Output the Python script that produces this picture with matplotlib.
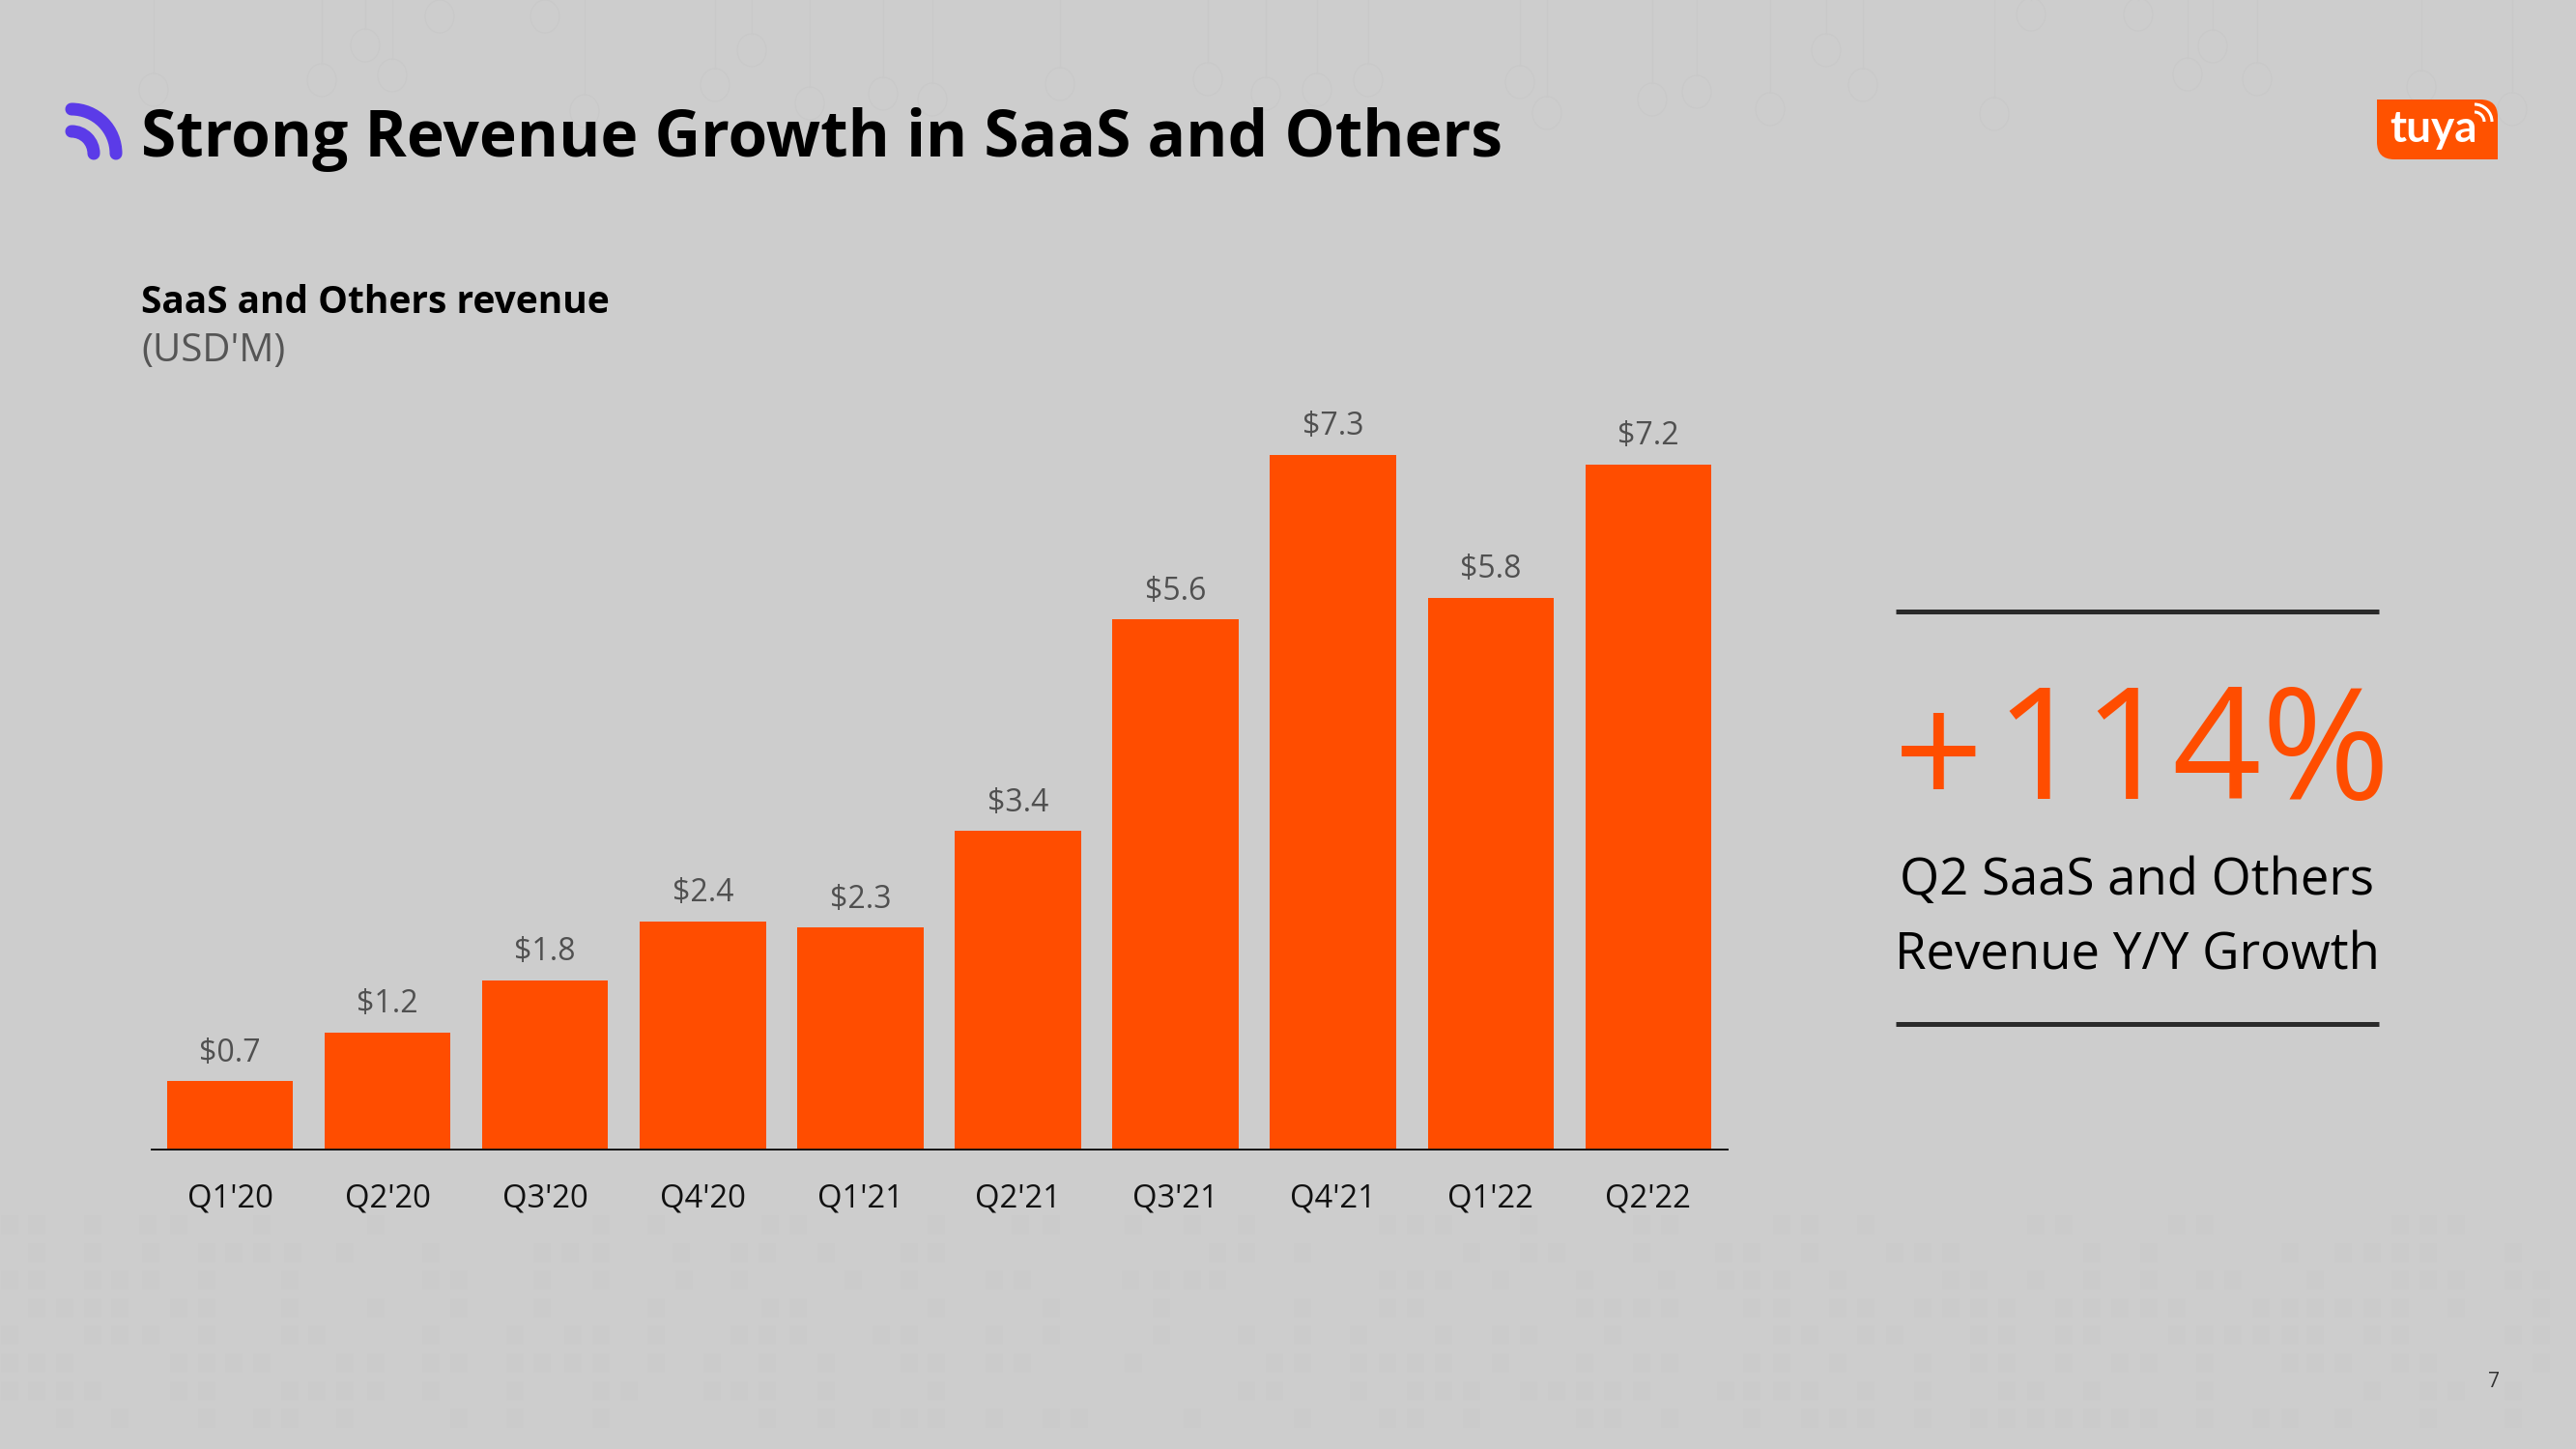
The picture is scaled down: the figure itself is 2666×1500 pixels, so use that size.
import matplotlib
matplotlib.use('Agg')
import matplotlib.pyplot as plt
from matplotlib.patches import Arc, Ellipse, PathPatch, Rectangle
from matplotlib.path import Path

quarters = ["Q1'20", "Q2'20", "Q3'20", "Q4'20", "Q1'21", "Q2'21", "Q3'21", "Q4'21", "Q1'22", "Q2'22"]
revenue = [0.72, 1.23, 1.78, 2.4, 2.33, 3.35, 5.57, 7.3, 5.8, 7.2]
labels = ['$0.7', '$1.2', '$1.8', '$2.4', '$2.3', '$3.4', '$5.6', '$7.3', '$5.8', '$7.2']

# faint circuit nodes along the top of the slide (x, y in pixels)
nodes = [(159, 93), (333, 83), (406, 78), (378, 47), (455, 17), (564, 17), (778, 52), (740, 88),
         (838, 107), (914, 97), (965, 103), (1097, 87), (1250, 82), (605, 115), (1310, 97),
         (1363, 93), (1416, 83), (1573, 85), (1601, 117), (1710, 103), (1756, 95), (1832, 113),
         (1890, 52), (1928, 88), (2064, 118), (2102, 15), (2213, 15), (2290, 48), (2264, 77),
         (2336, 82), (2506, 90), (2600, 113)]

# faint blocks at the bottom of the slide, one list of x pixels per row
blocks_left = [
    [10, 38, 96, 153, 185, 271, 389, 622, 679, 797, 826, 969],
    [38, 96, 156, 214, 242, 271, 303, 357, 446, 561, 590, 622, 705, 765, 794, 855, 941, 969],
    [10, 38, 96, 124, 156, 214, 300, 446, 475, 561, 622, 708, 765, 883, 941],
    [38, 67, 96, 124, 185, 214, 300, 389, 475, 561, 679, 797, 826, 969],
    [10, 96, 124, 156, 214, 300, 328, 446, 533, 593, 622, 679, 765, 794, 826, 912, 941],
    [10, 38, 67, 185, 214, 242, 271, 357, 389, 446, 475, 533, 561, 593, 622, 679, 737, 794, 855, 941, 969],
    [10, 38, 67, 96, 185, 214, 300, 328, 357, 389, 446, 533, 622, 651, 737, 765, 794, 855, 969],
    [67, 124, 214, 271, 300, 357, 475, 533, 622, 794, 855, 912, 941, 969],
]
blocks_mid = [
    [1056, 1088, 1173, 1234, 1290, 1436, 1465, 1494, 1582, 1699, 1728],
    [1260, 1290, 1348, 1523, 1582, 1611, 1699, 1784, 1813],
    [1029, 1058, 1170, 1202, 1234, 1260, 1436, 1465, 1494, 1553, 1640, 1725, 1786, 1813],
    [1088, 1202, 1348, 1436, 1465, 1640, 1669, 1699, 1728, 1813],
    [1029, 1088, 1202, 1290, 1348, 1406, 1494, 1553, 1582, 1669],
    [1029, 1058, 1173, 1319, 1348, 1406, 1436, 1465, 1494, 1553, 1640, 1699, 1728, 1813],
    [1290, 1319, 1406, 1465, 1494, 1523, 1582, 1611, 1640, 1669, 1699, 1786, 1813],
    [1029, 1088, 1117, 1234, 1348, 1436, 1465, 1523, 1640, 1669, 1728, 1813],
]
blocks_right = [
    [1844, 1873, 1931, 2107, 2136, 2253, 2282, 2484, 2513, 2542],
    [1873, 1961, 1990, 2019, 2165, 2224, 2370, 2425, 2455, 2484, 2513, 2601],
    [1844, 1902, 2019, 2048, 2107, 2165, 2224, 2282, 2311, 2396, 2484, 2513, 2542, 2601, 2630],
    [1844, 1902, 1931, 1990, 2019, 2048, 2077, 2136, 2165, 2194, 2224, 2253, 2340, 2370, 2396, 2425, 2455, 2484, 2542, 2630],
    [1844, 1873, 1931, 1961, 2048, 2077, 2136, 2165, 2253, 2282, 2311, 2340, 2370, 2396, 2455, 2484, 2601, 2630],
    [1844, 1902, 1990, 2048, 2077, 2136, 2194, 2224, 2282, 2370, 2396, 2425, 2484, 2513, 2630],
    [1844, 1873, 1931, 1990, 2077, 2107, 2165, 2282, 2455, 2513, 2542, 2601],
    [1873, 1902, 1931, 1990, 2048, 2077, 2107, 2136, 2165, 2194, 2224, 2282, 2340, 2370, 2425, 2513, 2601],
]

ORANGE = '#ff4d00'
PURPLE = '#5b3be8'
BG = '#cdcdcd'
FAINT = '#c9c9c9'
W, H = 2666, 1500

plt.rcParams['font.family'] = ['Open Sans', 'DejaVu Sans']

fig = plt.figure(figsize=(W / 100, H / 100), dpi=100, facecolor=BG)

# pixel overlay for the slide furniture
bg = fig.add_axes([0, 0, 1, 1])
bg.set_xlim(0, W)
bg.set_ylim(H, 0)
bg.axis('off')

for nx, ny in nodes:
    bg.plot([nx, nx], [0, ny - 17], color=FAINT, lw=0.8)
    bg.add_patch(Ellipse((nx, ny), 30, 34, fc='none', ec=FAINT, lw=0.8))

for part in [blocks_left, blocks_mid, blocks_right]:
    for i, row in enumerate(part):
        for bx in row:
            bg.add_patch(Rectangle((bx - 9, 1268 + i * 28.6 - 10), 18, 20, fc='#cbcbcb', ec='none'))

bg.text(146, 145, 'Strong Revenue Growth in SaaS and Others', fontsize=47.3, fontweight='bold', color='black', va='center', ha='left')
bg.text(146, 314, 'SaaS and Others revenue', fontsize=28, fontweight='bold', color='black', va='center', ha='left')
bg.text(146, 364, "(USD'M)", fontsize=29, color='#555555', va='center', ha='left')

# icon
bg.add_patch(Arc((74, 159), 92, 92, theta1=270, theta2=360, color=PURPLE, lw=9.4, capstyle='round'))
bg.add_patch(Arc((74, 159), 46, 46, theta1=270, theta2=360, color=PURPLE, lw=9.4, capstyle='round'))

# logo, rounded only at top right and bottom left
logo_verts = [(2460, 103), (2567, 103), (2585, 103), (2585, 121), (2585, 165), (2478, 165), (2460, 165), (2460, 147), (2460, 103)]
logo_codes = [Path.MOVETO, Path.LINETO, Path.CURVE3, Path.CURVE3, Path.LINETO, Path.LINETO, Path.CURVE3, Path.CURVE3, Path.CLOSEPOLY]
bg.add_patch(PathPatch(Path(logo_verts, logo_codes), fc='#ff5200', ec='none'))
bg.text(2518, 134, 'tuya', fontsize=33, fontweight='bold', family=['Lato', 'DejaVu Sans'], color='white', ha='center', va='center')
bg.add_patch(Arc((2561, 126), 20, 20, theta1=270, theta2=360, color='white', lw=2.2))
bg.add_patch(Arc((2561, 126), 36, 36, theta1=270, theta2=360, color='white', lw=2.2))

# right panel
bg.plot([1962, 2462], [633, 633], color='#2a2a2a', lw=3.6, solid_capstyle='butt')
bg.plot([1962, 2462], [1060, 1060], color='#2a2a2a', lw=3.6, solid_capstyle='butt')
bg.text(2006, 835, '+', fontsize=117, color=ORANGE, ha='center', va='baseline')
bg.text(2474, 827, '114%', fontsize=116, color=ORANGE, ha='right', va='baseline')
bg.text(2212, 912, 'Q2 SaaS and Others', fontsize=38, color='black', ha='center', va='center')
bg.text(2212, 990, 'Revenue Y/Y Growth', fontsize=38, color='black', ha='center', va='center')
bg.text(2581, 1431, '7', fontsize=15, color='#333333', ha='center', va='center')

# chart
ax = fig.add_axes([157 / W, (H - 1190) / H, (1788 - 157) / W, 760 / H])
ax.patch.set_alpha(0)
x = list(range(len(quarters)))
ax.bar(x, revenue, width=0.8, color=ORANGE)
ax.set_xlim((157 - 238) / 163.1, (1788 - 238) / 163.1)
ax.set_ylim(0, 760 / 98.5)
for s in ['top', 'left', 'right']:
    ax.spines[s].set_visible(False)
ax.spines['bottom'].set_linewidth(1.4)
ax.spines['bottom'].set_color('#111111')
ax.set_yticks([])
ax.set_xticks(x)
ax.set_xticklabels(quarters, fontsize=23.6, color='#111111')
ax.tick_params(axis='x', length=0, pad=25)
for xi, v, lab in zip(x, revenue, labels):
    ax.annotate(lab, (xi, v), xytext=(0, 9), textcoords='offset points', ha='center', va='bottom', fontsize=23, color='#505050')

fig.savefig('out.png', dpi=100, facecolor=BG)
